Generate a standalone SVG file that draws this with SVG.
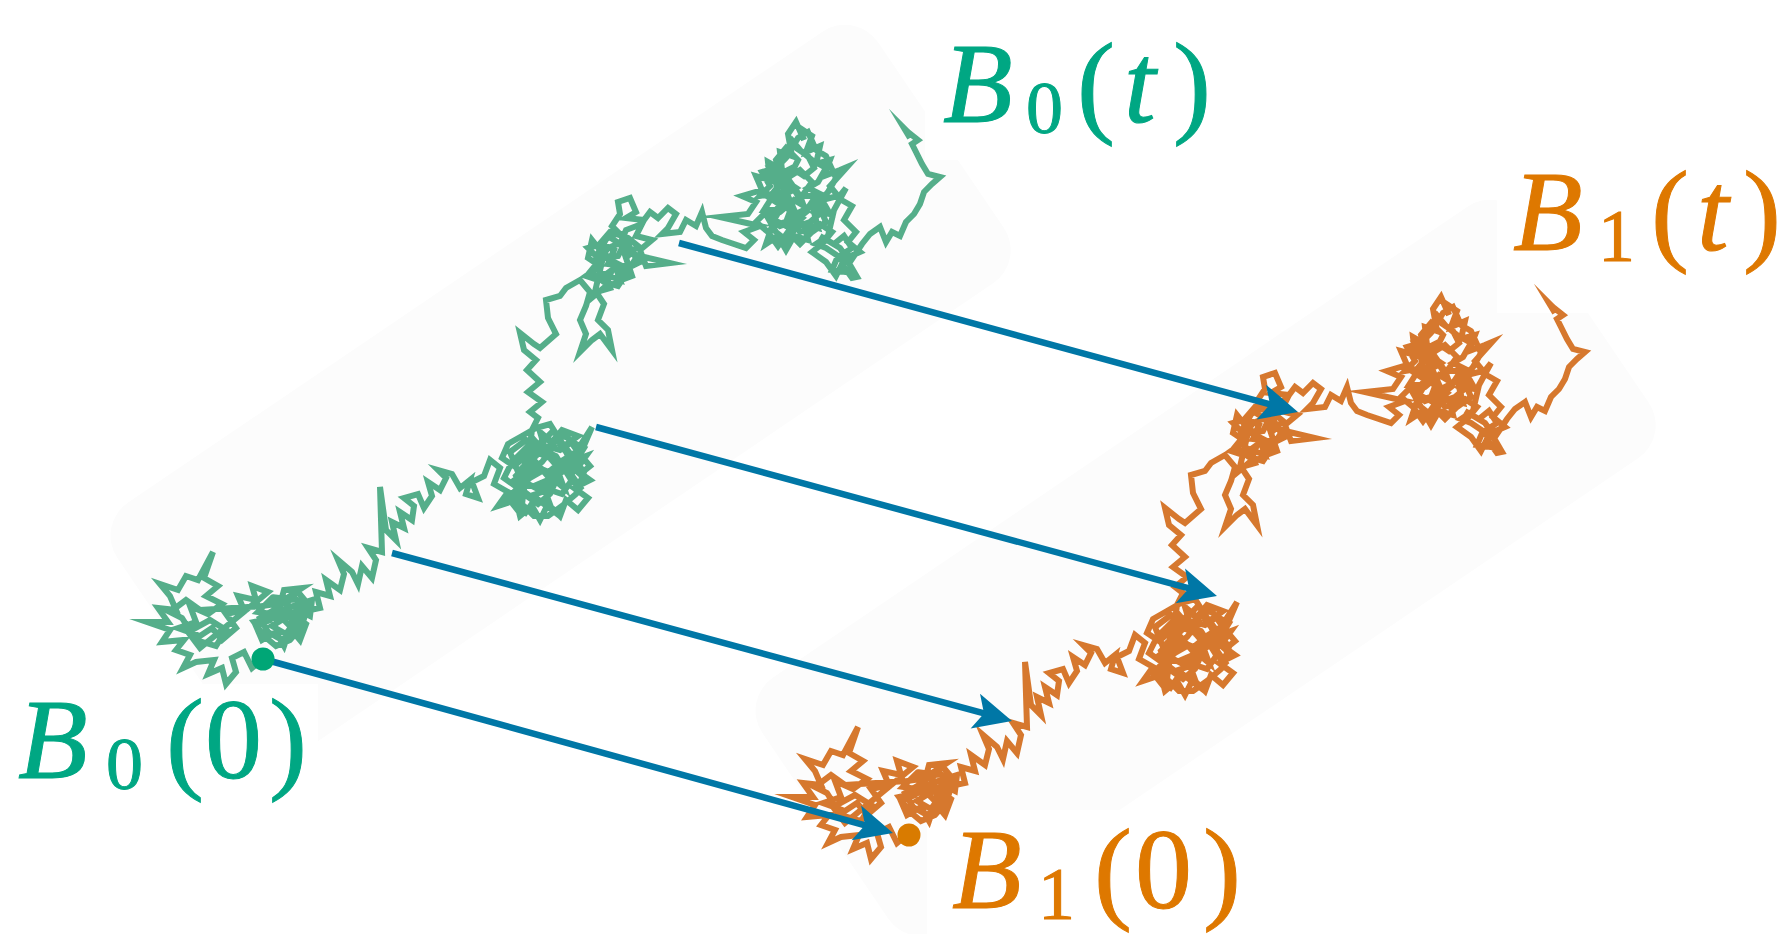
<svg xmlns="http://www.w3.org/2000/svg" xmlns:xlink="http://www.w3.org/1999/xlink" width="1791" height="934" viewBox="0 0 1791 934">
<style>
.bg{fill:#fcfcfc}
.box{fill:#ffffff}
.bm{fill:none;stroke-width:6;stroke-linejoin:miter;stroke-miterlimit:10}
.arr{stroke:#0077a6;stroke-width:6.5;fill:none;stroke-linecap:butt}
.lbl{font-family:"Liberation Serif","Times New Roman",serif;font-size:114px;stroke-width:1}
.it{font-style:italic}
.sub{font-size:74px}
.g{fill:#00a783;stroke:#00a783}
.o{fill:#de7800;stroke:#de7800}
</style>
<defs>
<marker id="ah" markerUnits="userSpaceOnUse" viewBox="-16 -22 46 44" markerWidth="46" markerHeight="44" refX="0" refY="0" orient="auto">
<path d="M26,0 L-12,-18 L-3,0 L-12,18 Z" fill="#0077a6"/>
</marker>
<path id="bm" d="M263 659 252 668 244 652 232 658 236 672 226 684 222 668 208 674 214 660 196 662 183 668 190 655 176 650 184 640 162 642 170 630 147 622 168 622 158 608 176 610 170 596 160 584 178 590 186 576 198 580 213 552 204 578 218 586 206 596 222 604 208 614 190 606 196 622 178 628 200 636 212 628 222 640 236 628 226 614 244 610 238 596 256 600 252 586 268 592 200 648 188 632 210 620 226 630 216 646 196 640 182 618 170 612 186 600 200 610 262 606 276 604 270 620 256 626 262 640 276 632 284 646 290 628 300 640 306 624 292 614 304 604 290 596 302 588 284 590 278 612 296 620 286 634 272 626 298 610 310 616 312 600 268 614 282 618 290 608 280 598 296 600 306 610 296 630 282 640 268 632 260 618 274 610 288 624 300 618 258 612 272 598 286 604 298 592 308 604 302 626 290 640 276 646 264 636 254 622 320 608 316 592 330 596 326 580 340 590 344 574 338 560 352 572 358 584 362 566 372 578 376 560 368 548 382 552 380 487 386 530 396 540 392 522 404 528 400 512 412 520 414 506 404 498 418 494 424 508 432 496 428 482 440 490 446 478 438 470 452 474 460 488 470 480 466 494 478 498 472 482 484 476 490 460 500 468 494 484 508 492 498 506 516 500 520 516 532 506 540 520 548 504 560 516 566 500 578 510 588 498 574 488 590 480 576 470 586 456 570 462 564 446 578 436 562 430 552 442 540 432 546 452 530 446 522 460 536 470 524 482 540 490 552 478 564 488 556 466 546 474 532 458 518 472 510 452 526 440 538 448 556 456 570 478 592 427 576 452 560 462 548 490 530 496 512 482 528 470 542 462 554 446 544 436 514 496 526 512 536 498 552 510 544 488 562 494 572 480 582 490 568 470 580 460 566 452 556 438 548 456 534 440 522 452 512 462 504 478 518 488 530 478 544 470 558 476 550 494 538 504 524 494 516 476 530 462 546 446 560 450 572 442 584 448 574 464 562 472 550 458 536 452 528 466 516 508 508 498 520 486 534 486 548 480 566 462 580 474 590 466 578 452 568 438 552 432 540 444 526 456 514 466 502 458 508 444 522 436 536 428 550 424 560 440 572 456 584 472 576 494 562 506 548 516 534 516 522 504 532 430 538 418 530 412 542 402 528 392 540 382 527 370 536 360 524 350 520 333 534 344 540 348 556 334 548 318 546 300 560 296 566 288 580 280 590 292 586 306 580 320 586 334 580 352 592 340 600 334 612 350 608 330 598 320 604 304 596 292 610 288 604 274 620 280 614 262 630 270 624 252 640 256 670 263 646 266 640 250 652 240 636 236 642 224 626 230 620 244 608 236 600 250 592 240 588 258 600 266 586 276 598 280 612 270 606 286 594 296 602 262 588 248 602 244 614 250 608 264 624 266 616 282 632 276 626 258 638 246 628 238 616 234 604 240 596 258 610 256 620 270 632 266 640 262 628 248 618 244 608 248 598 262 590 272 604 282 618 286 626 274 636 258 622 234 610 232 598 246 604 258 618 256 626 240 612 226 620 214 618 202 630 198 636 212 626 218 644 220 650 212 658 218 668 208 676 214 668 228 662 234 680 232 686 220 696 226 702 212 706 228 712 236 722 240 746 248 754 240 744 232 760 226 720 217 748 214 756 202 742 196 762 190 756 176 770 180 768 162 782 170 780 152 792 156 788 134 796 122 804 140 800 128 812 136 806 152 820 146 816 164 830 160 824 176 840 170 847 167 830 186 838 196 822 200 830 214 814 212 818 228 804 224 808 240 794 236 786 250 778 236 766 244 772 226 786 222 792 206 780 198 796 188 784 180 800 170 812 182 802 196 816 196 808 208 796 214 788 196 776 210 764 210 778 188 770 170 790 176 798 160 786 148 776 160 790 210 802 218 790 228 774 220 782 206 770 198 786 190 776 176 792 168 804 176 814 168 808 156 796 148 790 138 800 150 812 160 826 168 818 182 808 188 820 194 812 206 824 210 810 222 798 226 786 240 776 232 768 218 780 212 794 200 804 206 792 186 780 184 772 194 760 196 770 186 762 172 776 168 786 158 798 138 808 132 816 150 826 156 836 178 828 192 818 204 826 222 812 232 800 244 788 232 778 246 768 232 756 222 766 212 780 226 796 220 806 212 800 196 786 176 784 200 800 232 820 224 832 232 822 244 812 252 826 262 836 276 842 264 852 278 857 277 846 258 860 252 848 242 856 232 844 220 852 206 838 198 846 188 834 210 828 236 816 244 826 248 838 256 832 270 846 272 840 256 852 248 844 236 834 244 820 236 840 248 850 262 862 244 870 234 880 227 886 242 892 232 900 236 906 222 914 214 920 204 924 192 932 184 940 177 928 174 922 164 916 152 912 144 918 140 908 132 904 128 910 138"/>
</defs>
<rect width="1791" height="934" fill="#ffffff"/>
<g id="backgrounds">
<rect class="bg" x="0" y="0" width="919" height="304" rx="40" transform="translate(95,525) rotate(-34.14)"/>
<rect class="bg" x="0" y="0" width="919" height="304" rx="40" transform="translate(740,700) rotate(-34.14)"/>
<rect class="box" x="0" y="684" width="318" height="250"/>
<rect class="box" x="927" y="810" width="340" height="124"/>
<rect class="box" x="1497" y="0" width="294" height="313"/>
<rect class="box" x="925" y="0" width="300" height="160"/>
</g>
<g id="path-B0">
<use xlink:href="#bm" href="#bm" class="bm" stroke="#55ae8a"/>
</g>
<g id="path-B1">
<use xlink:href="#bm" href="#bm" class="bm" stroke="#d6782e" transform="translate(645,175)"/>
</g>
<g id="connectors">
<line class="arr" x1="263" y1="659" x2="867.9" y2="826.1" marker-end="url(#ah)"/>
<line class="arr" x1="392" y1="553" x2="986.9" y2="714.2" marker-end="url(#ah)"/>
<line class="arr" x1="596" y1="427" x2="1191.9" y2="589.1" marker-end="url(#ah)"/>
<line class="arr" x1="679" y1="243" x2="1272.9" y2="405.2" marker-end="url(#ah)"/>
</g>
<g id="dot-B0-0"><circle cx="263" cy="659" r="11.5" fill="#00a676"/></g>
<g id="dot-B1-0"><circle cx="909" cy="835" r="11.5" fill="#d97b00"/></g>
<g id="label-B0t">
<text class="lbl g"><tspan class="it" x="943" y="122">B</tspan><tspan class="sub" x="1026" y="133">0</tspan><tspan x="1077" y="122">(</tspan><tspan class="it" x="1124" y="122">t</tspan><tspan x="1173" y="122">)</tspan></text>
</g>
<g id="label-B1t">
<text class="lbl o"><tspan class="it" x="1513" y="250">B</tspan><tspan class="sub" x="1598" y="261">1</tspan><tspan x="1651" y="250">(</tspan><tspan class="it" x="1697" y="250">t</tspan><tspan x="1743" y="250">)</tspan></text>
</g>
<g id="label-B00">
<text class="lbl g"><tspan class="it" x="18" y="778">B</tspan><tspan class="sub" x="106" y="789">0</tspan><tspan x="166" y="778">(</tspan><tspan x="205" y="778">0</tspan><tspan x="269" y="778">)</tspan></text>
</g>
<g id="label-B10">
<text class="lbl o"><tspan class="it" x="952" y="908">B</tspan><tspan class="sub" x="1038" y="919">1</tspan><tspan x="1094" y="908">(</tspan><tspan x="1135" y="908">0</tspan><tspan x="1203" y="908">)</tspan></text>
</g>
</svg>
